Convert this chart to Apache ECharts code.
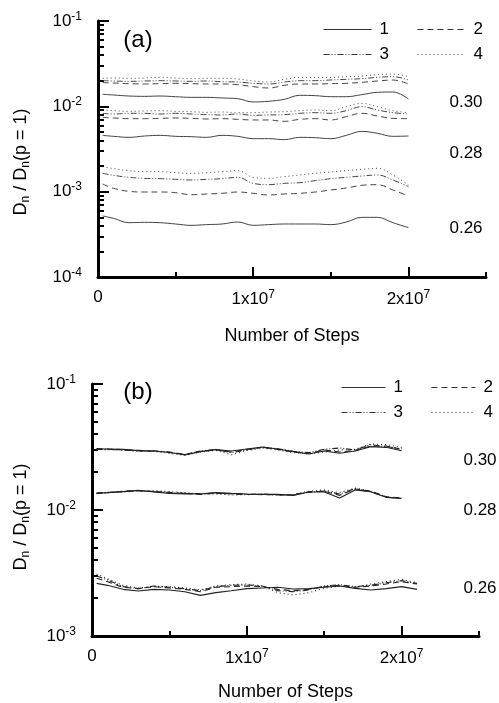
<!DOCTYPE html>
<html>
<head>
<meta charset="utf-8">
<script src="https://cdn.jsdelivr.net/npm/echarts@6/dist/echarts.min.js"></script>
<style>
html, body { margin: 0; padding: 0; background: #fff; }
#main { width: 499px; height: 703px; }
</style>
</head>
<body>
<div id="main"></div>
<script>
var FONT = "'Liberation Sans', Arial, sans-serif";

// number of steps (x values)
var stepsA = [3e5, 1e6, 2e6, 3e6, 4e6, 5e6, 6e6, 7e6, 8e6, 9e6, 1e7, 1.1e7, 1.2e7, 1.3e7, 1.4e7, 1.5e7, 1.6e7, 1.7e7, 1.8e7, 1.9e7, 2e7];
var stepsB = [3e5, 1e6, 2e6, 3e6, 4e6, 5e6, 6e6, 7e6, 8e6, 9e6, 1e7, 1.1e7, 1.2e7, 1.3e7, 1.4e7, 1.5e7, 1.6e7, 1.7e7, 1.8e7, 1.9e7, 2e7];
var stepsB26 = [3e5, 1e6, 2e6, 3e6, 4e6, 5e6, 6e6, 7e6, 8e6, 9e6, 1e7, 1.1e7, 1.2e7, 1.3e7, 1.4e7, 1.5e7, 1.6e7, 1.7e7, 1.8e7, 1.9e7, 2e7, 2.1e7];

// panel (a)  p = 0.30
var a30_1 = [0.01384, 0.01358, 0.01321, 0.01309, 0.01321, 0.01297, 0.01274, 0.01274, 0.01253, 0.01230, 0.01125, 0.01146, 0.01208, 0.01346, 0.01334, 0.01297, 0.01297, 0.01371, 0.01459, 0.01472, 0.01219];
var a30_2 = [0.01894, 0.01877, 0.01844, 0.01827, 0.01844, 0.01860, 0.01844, 0.01827, 0.01827, 0.01794, 0.01700, 0.01640, 0.01763, 0.01827, 0.01827, 0.01844, 0.01860, 0.01911, 0.01981, 0.02035, 0.01827];
var a30_3 = [0.01999, 0.01981, 0.01963, 0.01981, 0.01999, 0.01981, 0.01963, 0.01981, 0.01946, 0.01928, 0.01860, 0.01827, 0.01928, 0.01999, 0.01999, 0.02035, 0.02072, 0.02110, 0.02187, 0.02227, 0.02035];
var a30_4 = [0.02129, 0.02148, 0.02129, 0.02148, 0.02187, 0.02148, 0.02110, 0.02129, 0.02129, 0.02091, 0.01981, 0.01928, 0.02072, 0.02187, 0.02187, 0.02187, 0.02227, 0.02268, 0.02350, 0.02392, 0.02227];
// panel (a)  p = 0.28
var a28_1 = [0.00457, 0.00445, 0.00433, 0.00449, 0.00457, 0.00445, 0.00441, 0.00433, 0.00457, 0.00445, 0.00418, 0.00418, 0.00407, 0.00433, 0.00429, 0.00418, 0.00457, 0.00509, 0.00483, 0.00445, 0.00449];
var a28_2 = [0.00743, 0.00730, 0.00717, 0.00717, 0.00723, 0.00730, 0.00723, 0.00711, 0.00717, 0.00704, 0.00692, 0.00692, 0.00667, 0.00704, 0.00717, 0.00692, 0.00757, 0.00828, 0.00770, 0.00723, 0.00717];
var a28_3 = [0.00828, 0.00813, 0.00828, 0.00828, 0.00813, 0.00828, 0.00813, 0.00799, 0.00792, 0.00813, 0.00785, 0.00792, 0.00799, 0.00828, 0.00843, 0.00828, 0.00890, 0.00991, 0.00906, 0.00843, 0.00813];
var a28_4 = [0.00906, 0.00890, 0.00874, 0.00882, 0.00890, 0.00874, 0.00866, 0.00850, 0.00858, 0.00843, 0.00843, 0.00858, 0.00866, 0.00890, 0.00906, 0.00890, 0.00991, 0.01084, 0.00991, 0.00890, 0.00843];
// panel (a)  p = 0.26
var a26_1 = [5.19e-4, 4.87e-4, 4.33e-4, 4.37e-4, 4.33e-4, 4.18e-4, 4.03e-4, 4.11e-4, 4.18e-4, 4.41e-4, 4.03e-4, 4.11e-4, 4.18e-4, 4.18e-4, 4.18e-4, 4.11e-4, 4.41e-4, 5.00e-4, 5.00e-4, 4.33e-4, 3.79e-4];
var a26_2 = [1.230e-3, 1.094e-3, 1.009e-3, 9.91e-4, 9.91e-4, 9.73e-4, 9.22e-4, 9.39e-4, 9.56e-4, 9.91e-4, 9.56e-4, 9.14e-4, 9.39e-4, 9.56e-4, 9.91e-4, 1.046e-3, 1.104e-3, 1.187e-3, 1.208e-3, 1.046e-3, 8.90e-4];
var a26_3 = [1.640e-3, 1.554e-3, 1.472e-3, 1.433e-3, 1.420e-3, 1.395e-3, 1.370e-3, 1.395e-3, 1.420e-3, 1.472e-3, 1.252e-3, 1.208e-3, 1.252e-3, 1.275e-3, 1.346e-3, 1.420e-3, 1.472e-3, 1.526e-3, 1.568e-3, 1.370e-3, 1.144e-3];
var a26_4 = [1.963e-3, 1.860e-3, 1.763e-3, 1.716e-3, 1.716e-3, 1.670e-3, 1.640e-3, 1.670e-3, 1.716e-3, 1.763e-3, 1.472e-3, 1.433e-3, 1.499e-3, 1.568e-3, 1.640e-3, 1.700e-3, 1.763e-3, 1.827e-3, 1.877e-3, 1.568e-3, 1.197e-3];

// panel (b)  p = 0.30
var b30_1 = [0.03049, 0.03049, 0.03030, 0.02957, 0.02939, 0.02869, 0.02733, 0.02904, 0.03012, 0.02939, 0.03049, 0.03162, 0.03049, 0.02904, 0.02783, 0.02939, 0.02817, 0.02939, 0.03182, 0.03143, 0.02957];
var b30_2 = [0.03067, 0.03049, 0.03012, 0.02975, 0.02921, 0.02886, 0.02766, 0.02921, 0.02994, 0.02886, 0.03030, 0.03143, 0.03030, 0.02886, 0.02817, 0.02994, 0.02886, 0.02975, 0.03221, 0.03221, 0.03030];
var b30_3 = [0.03030, 0.03030, 0.02994, 0.02939, 0.02957, 0.02852, 0.02749, 0.02939, 0.03030, 0.02852, 0.02994, 0.03143, 0.03067, 0.02921, 0.02852, 0.03030, 0.03105, 0.02994, 0.03302, 0.03182, 0.03067];
var b30_4 = [0.03030, 0.03012, 0.02994, 0.02921, 0.02921, 0.02817, 0.02716, 0.02886, 0.02975, 0.02749, 0.02957, 0.03105, 0.02994, 0.02852, 0.02783, 0.02886, 0.02994, 0.03030, 0.03342, 0.03302, 0.03143];
// panel (b)  p = 0.28
var b28_1 = [0.01356, 0.01373, 0.01398, 0.01432, 0.01390, 0.01356, 0.01340, 0.01340, 0.01373, 0.01356, 0.01340, 0.01331, 0.01331, 0.01307, 0.01390, 0.01390, 0.01245, 0.01441, 0.01398, 0.01260, 0.01237];
var b28_2 = [0.01365, 0.01373, 0.01407, 0.01424, 0.01407, 0.01373, 0.01356, 0.01331, 0.01356, 0.01348, 0.01331, 0.01323, 0.01323, 0.01323, 0.01398, 0.01407, 0.01307, 0.01468, 0.01415, 0.01276, 0.01245];
var b28_3 = [0.01356, 0.01381, 0.01398, 0.01424, 0.01398, 0.01381, 0.01356, 0.01348, 0.01365, 0.01340, 0.01331, 0.01340, 0.01315, 0.01315, 0.01381, 0.01415, 0.01340, 0.01477, 0.01390, 0.01268, 0.01230];
var b28_4 = [0.01348, 0.01373, 0.01390, 0.01415, 0.01424, 0.01398, 0.01373, 0.01340, 0.01340, 0.01315, 0.01323, 0.01331, 0.01307, 0.01323, 0.01407, 0.01441, 0.01373, 0.01495, 0.01407, 0.01276, 0.01223];
// panel (b)  p = 0.26
var b26_1 = [2.618e-3, 2.524e-3, 2.346e-3, 2.275e-3, 2.346e-3, 2.317e-3, 2.248e-3, 2.102e-3, 2.208e-3, 2.289e-3, 2.375e-3, 2.404e-3, 2.434e-3, 2.360e-3, 2.375e-3, 2.434e-3, 2.494e-3, 2.389e-3, 2.317e-3, 2.375e-3, 2.464e-3, 2.346e-3];
var b26_2 = [2.869e-3, 2.699e-3, 2.434e-3, 2.375e-3, 2.464e-3, 2.404e-3, 2.346e-3, 2.248e-3, 2.434e-3, 2.464e-3, 2.494e-3, 2.464e-3, 2.346e-3, 2.289e-3, 2.346e-3, 2.464e-3, 2.524e-3, 2.434e-3, 2.494e-3, 2.586e-3, 2.699e-3, 2.586e-3];
var b26_3 = [2.994e-3, 2.783e-3, 2.464e-3, 2.375e-3, 2.494e-3, 2.434e-3, 2.375e-3, 2.289e-3, 2.464e-3, 2.524e-3, 2.540e-3, 2.494e-3, 2.289e-3, 2.248e-3, 2.317e-3, 2.494e-3, 2.555e-3, 2.464e-3, 2.524e-3, 2.650e-3, 2.749e-3, 2.618e-3];
var b26_4 = [3.105e-3, 2.852e-3, 2.524e-3, 2.404e-3, 2.464e-3, 2.464e-3, 2.404e-3, 2.317e-3, 2.494e-3, 2.555e-3, 2.586e-3, 2.494e-3, 2.208e-3, 2.115e-3, 2.208e-3, 2.389e-3, 2.494e-3, 2.434e-3, 2.586e-3, 2.699e-3, 2.817e-3, 2.650e-3];

// tick values
var decA = [1e-4, 1e-3, 1e-2, 1e-1];
var decB = [1e-3, 1e-2, 1e-1];
var xMajorTicks = [0, 1e7, 2e7];
var xMinorTicks = [5e6, 1.5e7, 2.5e7];
var pLabels = ['0.30', '0.28', '0.26'];

var DASH = { '1': 'solid', '2': [6, 4], '3': [6, 2, 1, 2, 1, 2], '4': [1, 3] };

function minorTicks(lo, hi) {
	var out = [];
	for (var e = lo; e < hi; e++) {
		for (var m = 2; m <= 9; m++) out.push(m * Math.pow(10, e));
	}
	return out;
}

var tickRich = {
	b: { fontSize: 17, fontFamily: FONT, color: '#000' },
	s: { fontSize: 12, fontFamily: FONT, color: '#000', padding: [0, 0, 9, 0] }
};

function powTen(v) {
	var e = Math.round(Math.log(v) / Math.LN10);
	return '{b|10}{s|' + e + '}';
}
function stepLabel(v) {
	if (v === 0) return '{b|0}';
	return '{b|' + Math.round(v / 1e7) + 'x10}{s|7}';
}

function yMajor(grid, min, max, dec) {
	return {
		type: 'log', logBase: 10, gridIndex: grid, min: min, max: max, position: 'left',
		axisLine: { show: true, onZero: false, lineStyle: { color: '#000', width: 3 } },
		axisTick: { show: true, inside: true, length: 11, customValues: dec, lineStyle: { color: '#000', width: 2 } },
		axisLabel: { show: true, margin: 16, customValues: dec, formatter: powTen, rich: tickRich },
		splitLine: { show: false }, minorTick: { show: false }
	};
}
function yMinor(grid, min, max, lo, hi) {
	return {
		type: 'log', logBase: 10, gridIndex: grid, min: min, max: max, position: 'left',
		axisLine: { show: false },
		axisTick: { show: true, inside: true, length: 6, customValues: minorTicks(lo, hi), lineStyle: { color: '#000', width: 2 } },
		axisLabel: { show: false },
		splitLine: { show: false }
	};
}
function xMinor(grid) {
	return {
		type: 'value', gridIndex: grid, min: 0, max: 2.5e7, position: 'bottom',
		axisLine: { show: true, onZero: false, lineStyle: { color: '#000', width: 3 } },
		axisTick: { show: true, inside: true, length: 5, customValues: xMinorTicks, lineStyle: { color: '#000', width: 2 } },
		axisLabel: { show: false },
		splitLine: { show: false }
	};
}
function xMajor(grid, gap) {
	return {
		type: 'value', gridIndex: grid, min: 0, max: 2.5e7, position: 'bottom',
		name: 'Number of Steps', nameLocation: 'middle', nameGap: gap,
		nameTextStyle: { fontSize: 18, fontFamily: FONT, color: '#000' },
		axisLine: { show: false, onZero: false },
		axisTick: { show: true, inside: true, length: 10, customValues: xMajorTicks, lineStyle: { color: '#000', width: 2 } },
		axisLabel: { show: true, margin: 12, customValues: xMajorTicks, formatter: stepLabel, rich: tickRich },
		splitLine: { show: false }
	};
}

function lineSeries(name, xi, yi, steps, vals, color, width, smooth) {
	var pts = [];
	for (var i = 0; i < vals.length; i++) pts.push([steps[i], vals[i]]);
	return {
		name: name, type: 'line', xAxisIndex: xi, yAxisIndex: yi, data: pts,
		symbol: 'none', showSymbol: false, smooth: smooth, silent: true,
		lineStyle: { color: color, width: width, type: DASH[name] },
		itemStyle: { color: color }
	};
}

var seriesList = [];
var groupsA = [[a30_1, a30_2, a30_3, a30_4], [a28_1, a28_2, a28_3, a28_4], [a26_1, a26_2, a26_3, a26_4]];
var groupsB = [[b30_1, b30_2, b30_3, b30_4], [b28_1, b28_2, b28_3, b28_4], [b26_1, b26_2, b26_3, b26_4]];
for (var g = 0; g < 3; g++) {
	for (var k = 0; k < 4; k++) {
		seriesList.push(lineSeries(String(k + 1), 0, 0, stepsA, groupsA[g][k], '#444', 1, 0.4));
	}
}
for (var g2 = 0; g2 < 3; g2++) {
	for (var k2 = 0; k2 < 4; k2++) {
		seriesList.push(lineSeries(String(k2 + 1), 2, 2, g2 === 2 ? stepsB26 : stepsB, groupsB[g2][k2], '#222', 1.1, false));
	}
}

// legend rows: only the line sample, no symbol in the middle
function legendRow(names, left, top, w) {
	return {
		data: names, left: left, top: top, orient: 'horizontal',
		itemWidth: w, itemHeight: 14, itemGap: 28, selectedMode: false,
		itemStyle: { opacity: 0 },
		lineStyle: { color: '#333', width: 1 },
		textStyle: { fontSize: 17, fontFamily: FONT, color: '#000', padding: [0, 0, 0, 3] }
	};
}

function txt(s, x, y, size) {
	return {
		type: 'text', x: x, y: y, silent: true,
		style: { text: s, fontSize: size, fontFamily: FONT, fill: '#000', align: 'center', verticalAlign: 'middle' }
	};
}
function yName(x, y) {
	return {
		type: 'text', x: x, y: y, rotation: Math.PI / 2, silent: true,
		style: {
			text: '{m|D}{n|n}{m| / D}{n|n}{m|(p = 1)}',
			align: 'center', verticalAlign: 'middle', fill: '#000',
			rich: {
				m: { fontSize: 18, fontFamily: FONT, color: '#000' },
				n: { fontSize: 12, fontFamily: FONT, color: '#000', padding: [9, 0, 0, 0] }
			}
		}
	};
}

var myChart = echarts.init(document.getElementById('main'), null, { renderer: 'canvas' });
var option = {
	backgroundColor: '#fff',
	animation: false,
	grid: [
		{ left: 98, top: 21, width: 388, height: 256, outerBoundsMode: 'none' },
		{ left: 92, top: 384, width: 387, height: 252, outerBoundsMode: 'none' }
	],
	xAxis: [xMinor(0), xMajor(0, 50), xMinor(1), xMajor(1, 47)],
	yAxis: [yMajor(0, 1e-4, 1e-1, decA), yMinor(0, 1e-4, 1e-1, -4, -1), yMajor(1, 1e-3, 1e-1, decB), yMinor(1, 1e-3, 1e-1, -3, -1)],
	legend: [
		legendRow(['1', '2'], 318, 16, 48),
		legendRow(['3', '4'], 318, 41, 48),
		legendRow(['1', '2'], 336, 374, 44),
		legendRow(['3', '4'], 336, 399, 44)
	],
	graphic: [
		txt('(a)', 138, 40, 24),
		txt('(b)', 138, 392, 24),
		txt(pLabels[0], 466, 102, 17),
		txt(pLabels[1], 466, 153, 17),
		txt(pLabels[2], 466, 228, 17),
		txt(pLabels[0], 480, 460, 17),
		txt(pLabels[1], 480, 510, 17),
		txt(pLabels[2], 480, 588, 17),
		yName(21, 162),
		yName(21, 517)
	],
	series: seriesList
};
myChart.setOption(option);
</script>
</body>
</html>
